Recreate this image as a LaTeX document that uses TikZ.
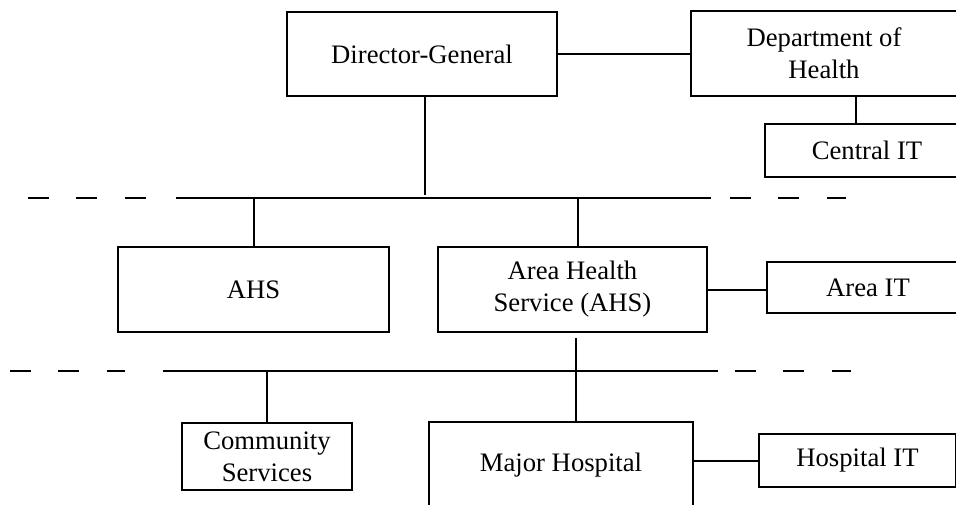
\documentclass[tikz,border=0pt]{standalone}
\usepackage{fontspec}
\setmainfont{Liberation Serif}
\tikzset{
  boks/.style={draw, line width=1.5pt, align=center, inner sep=0pt, font=\fontsize{20}{24}\selectfont},
  stiplet/.style={dash pattern=on 15.75pt off 20.6pt},
}
\begin{document}
\begin{tikzpicture}[x=0.75pt,y=-0.75pt,line width=1.5pt]
  \useasboundingbox (0,0) rectangle (956,504);
  \clip (0,0) rectangle (956,504);
  %øverste niveau
	\node[boks,minimum width=202.5pt,minimum height=63pt] (dg) at (422,54) {Director-General};
	\node[boks,minimum width=199.5pt,minimum height=63.75pt] (doh) at (824,53.5) {Department of\\Health};
	\node[boks,minimum width=153pt,minimum height=39.75pt] (cit) at (867,150.5) {Central IT};
  %midterste niveau
	\node[boks,minimum width=203.25pt,minimum height=63.75pt] (ahs) at (253.5,289.5) {AHS};
	\node[boks,minimum width=201.75pt,minimum height=63.75pt] (area) at (572.5,289.5) {Area Health\\Service (AHS)};
	\node[boks,minimum width=151.5pt,minimum height=38.25pt] (ait) at (868,287.5) {Area IT};
  %nederste niveau
	\node[boks,minimum width=127.5pt,minimum height=50.25pt] (comm) at (267,456.5) {Community\\Services};
	\node[boks,minimum width=198pt,minimum height=64.5pt] (mh) at (561,465) {Major Hospital};
	\node[boks,minimum width=147.75pt,minimum height=39.75pt] (hit) at (857.5,460.5) {Hospital IT};

  %skillelinje 1
	\coordinate (l1a) at (28,198);
	\coordinate (l1b) at (146,198);
	\coordinate (l1c) at (176,198);
	\coordinate (l1d) at (711,198);
	\coordinate (l1e) at (730,198);
	\coordinate (l1f) at (846,198);
	\draw[stiplet] (l1a) -- (l1b);
	\draw (l1c) -- (l1d);
	\draw[stiplet] (l1e) -- (l1f);
  %skillelinje 2
	\coordinate (l2a) at (10,371);
	\coordinate (l2b) at (125,371);
	\coordinate (l2c) at (163,371);
	\coordinate (l2d) at (718,371);
	\coordinate (l2e) at (735,371);
	\coordinate (l2f) at (851,371);
	\draw[stiplet] (l2a) -- (l2b);
	\draw (l2c) -- (l2d);
	\draw[stiplet] (l2e) -- (l2f);

  %forbindelser
	\draw ([xshift=2pt]dg.south) -- ([xshift=2pt,yshift=2pt]dg.south |- l1c);
	\draw (doh.west -| dg.east) -- (doh.west);
	\draw ([xshift=24pt]doh.south) -- ([xshift=24pt]doh.south |- cit.north);
	\draw (ahs.north) -- (ahs.north |- l1c);
	\draw ([xshift=4pt]area.north) -- ([xshift=4pt]area.north |- l1c);
	\draw (area.east) -- (area.east -| ait.west);
	\draw ([xshift=2.5pt,yshift=-4pt]area.south) -- ([xshift=2.5pt]area.south |- mh.north);
	\draw (comm.north) -- (comm.north |- l2c);
	\draw (hit.west -| mh.east) -- (hit.west);
\end{tikzpicture}
\end{document}
